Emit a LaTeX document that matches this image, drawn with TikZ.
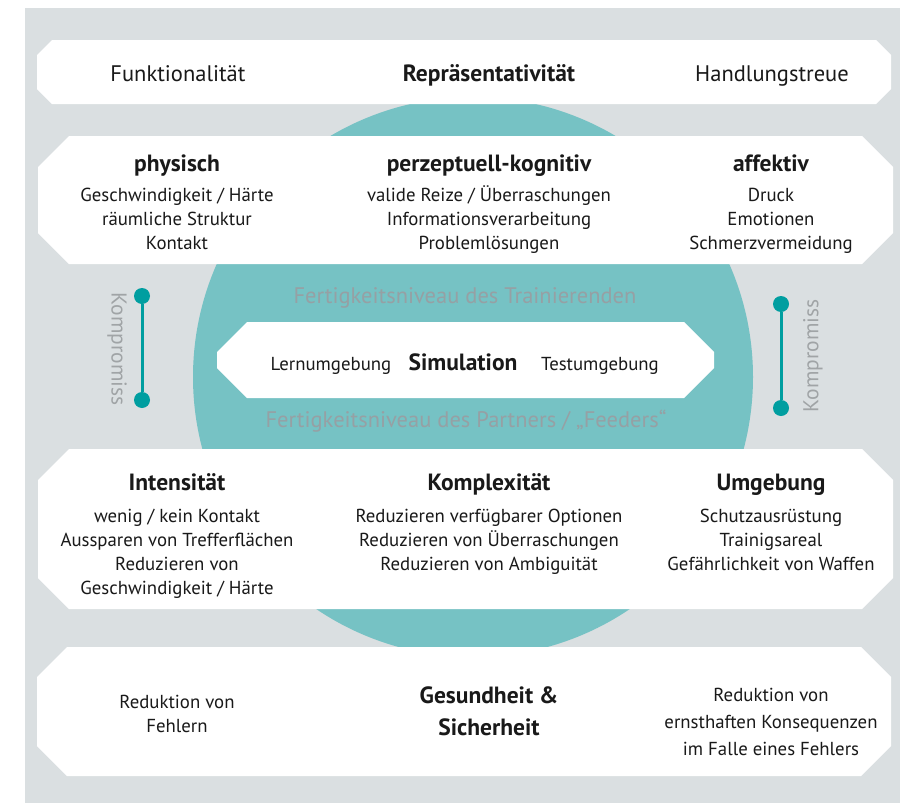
\documentclass[tikz,border=0pt]{standalone}
\usepackage{fontspec}
\setmainfont{PT Sans}
\definecolor{bggray}{RGB}{218,223,225}
\definecolor{circteal}{RGB}{118,194,196}
\definecolor{darkteal}{RGB}{0,158,160}
\definecolor{fadetext}{RGB}{150,160,164}
\definecolor{komptext}{RGB}{160,164,166}
\definecolor{ink}{RGB}{25,25,25}
% white band with chamfered ends: x1, y1, x2, y2, chamfer
\newcommand\chamband[5]{%
  \fill[white] (#1+#5,#2) -- (#3-#5,#2) -- (#3,#2+#5) -- (#3,#4-#5)
    -- (#3-#5,#4) -- (#1+#5,#4) -- (#1,#4-#5) -- (#1,#2+#5) -- cycle;}
% multi-line nodes are anchored on the baseline of their last line
\tikzset{
  toptext/.style={font=\fontsize{22.5}{26}\selectfont, text=ink, inner sep=0pt, anchor=base},
  headtext/.style={font=\bfseries\fontsize{23.5}{26}\selectfont, text=ink, inner sep=0pt, anchor=base},
  bodytext/.style={font=\fontsize{18.8}{24}\selectfont, text=ink, inner sep=0pt, align=center, anchor=base},
  fadelabel/.style={font=\fontsize{22.5}{24}\selectfont, text=fadetext, inner sep=0pt, anchor=base},
  komplabel/.style={font=\fontsize{21.5}{24}\selectfont, text=komptext, inner sep=0pt},
  kdot/.style={circle, fill=darkteal, minimum size=16pt, inner sep=0pt},
  kline/.style={draw=darkteal, line width=3pt},
}
\begin{document}
\begin{tikzpicture}[x=1pt,y=-1pt]
\useasboundingbox (0,0) rectangle (900,803);
% backdrop and circle
\fill[bggray] (25,8) rectangle (900,803);
\fill[circteal] (473,377) circle (280);

% bands
\chamband{37}{40}{891}{104}{15}
\chamband{38}{136}{893}{264}{31}
\chamband{217}{322}{714}{398}{30}
\chamband{38}{449}{893}{609}{31}
\chamband{37}{647}{891}{776}{30}

% top band
\node[toptext] (funk) at (178,81) {Funktionalität};
\node[headtext] (repr) at (489,81) {Repräsentativität};
\node[toptext] (hand) at (772,81) {Handlungstreue};

% second band
\node[headtext] (phys) at (177,171) {physisch};
\node[headtext] (perz) at (489,171) {perzeptuell-kognitiv};
\node[headtext] (affe) at (771,171) {affektiv};
\node[bodytext] (physb) at (177,249) {Geschwindigkeit / Härte\\räumliche Struktur\\Kontakt};
\node[bodytext] (perzb) at (489,249) {valide Reize / Überraschungen\\Informationsverarbeitung\\Problemlösungen};
\node[bodytext] (affeb) at (771,249) {Druck\\Emotionen\\Schmerzvermeidung};

% skill levels and simulation
\node[fadelabel] (skilltr) at (465,303) {Fertigkeitsniveau des Trainierenden};
\node[fadelabel] (skillpa) at (466,427) {Fertigkeitsniveau des Partners / „Feeders“};
\node[bodytext] (lern) at (331,370) {Lernumgebung};
\node[headtext] (simu) at (463,370) {Simulation};
\node[bodytext] (test) at (600,370) {Testumgebung};

% compromise markers
\node[kdot] (kl1) at (142,296) {};
\node[kdot] (kl2) at (142,400) {};
\draw[kline] (kl1) -- (kl2);
\node[komplabel, rotate=-90] (kompl) at (117,349) {Kompromiss};
\node[kdot] (kr1) at (781,304) {};
\node[kdot] (kr2) at (781,408) {};
\draw[kline] (kr1) -- (kr2);
\node[komplabel, rotate=90] (kompr) at (813,356) {Kompromiss};

% third band
\node[headtext] (inte) at (177,490) {Intensität};
\node[headtext] (komp) at (489,490) {Komplexität};
\node[headtext] (umge) at (771,490) {Umgebung};
\node[bodytext] (inteb) at (177,594) {wenig / kein Kontakt\\Aussparen von Trefferflächen\\Reduzieren von\\Geschwindigkeit / Härte};
\node[bodytext] (kompb) at (489,570) {Reduzieren verfügbarer Optionen\\Reduzieren von Überraschungen\\Reduzieren von Ambiguität};
\node[bodytext] (umgeb) at (771,570) {Schutzausrüstung\\Trainigsareal\\Gefährlichkeit von Waffen};

% bottom band
\node[bodytext] (fehl) at (177,732) {Reduktion von\\Fehlern};
\node[headtext, align=center, font=\bfseries\fontsize{23.5}{32}\selectfont] (gesu) at (489,735) {Gesundheit \&\\Sicherheit};
\node[bodytext, font=\fontsize{18.8}{27}\selectfont] (kons) at (771,755) {Reduktion von\\ernsthaften Konsequenzen\\im Falle eines Fehlers};
\end{tikzpicture}
\end{document}
